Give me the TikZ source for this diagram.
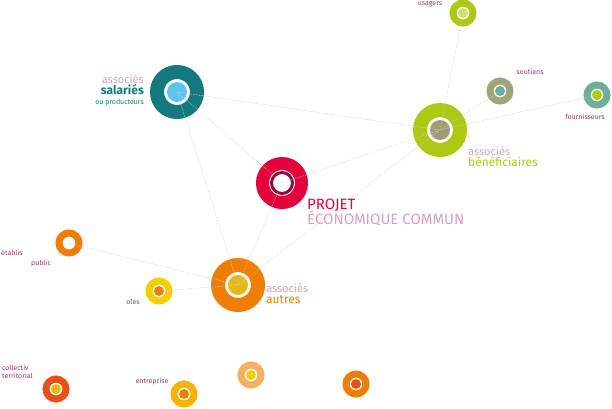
\documentclass[tikz,border=0pt]{standalone}
\usepackage{fontspec}
\setmainfont{Fira Sans}
\usetikzlibrary{positioning}
\definecolor{teal1}{HTML}{127A7F}
\definecolor{sky}{HTML}{5BC5EE}
\definecolor{lime}{HTML}{AFC814}
\definecolor{khaki}{HTML}{9E9B6F}
\definecolor{rouge}{HTML}{E4003C}
\definecolor{bordeaux}{HTML}{8C0C3C}
\definecolor{orange1}{HTML}{EF7D00}
\definecolor{jaune}{HTML}{E8B814}
\definecolor{jaune2}{HTML}{F0D000}
\definecolor{sauge}{HTML}{9EA577}
\definecolor{vert}{HTML}{6DAE98}
\definecolor{brique}{HTML}{E8501A}
\definecolor{ambre}{HTML}{F5B300}
\definecolor{peche}{HTML}{F8B060}
\definecolor{txt}{HTML}{9C3A6A}
\definecolor{rose}{HTML}{D8A0BC}
\tikzset{
  big/.style 2 args={circle, minimum size=40pt, draw=#1, line width=14pt, fill=white,
    path picture={\fill[#2] (path picture bounding box.center) circle (10pt);}},
  small/.style 2 args={circle, minimum size=20pt, draw=#1, line width=7pt, fill=white,
    path picture={\fill[#2] (path picture bounding box.center) circle (5pt);}},
  link/.style={draw=gray!35, densely dotted, line width=0.6pt},
  lab/.style={text=txt, font=\fontsize{7}{8}\selectfont, inner sep=1pt},
}
\begin{document}
\begin{tikzpicture}[x=1pt,y=-1pt]
\useasboundingbox (0,0) rectangle (612,408);
% main circles
\node[big={teal1}{sky}] (sal) at (177,92) {};
\node[big={lime}{khaki}] (ben) at (440,130) {};
\node[circle, minimum size=39pt, draw=rouge, line width=13pt, fill=white,
  path picture={\draw[bordeaux, line width=3pt] (path picture bounding box.center) circle (10.5pt);}] (pro) at (282,183) {};
\node[big={orange1}{jaune}] (aut) at (238,285) {};
% satellites
\node[small={lime}{lime!60}] (usa) at (463,13) {};
\node[small={sauge}{vert}] (sou) at (500,91) {};
\node[small={vert}{lime}] (fou) at (597,95) {};
\node[small={orange1}{white}] (eta) at (69,243) {};
\node[small={jaune2}{orange1}] (ecl) at (159,291) {};
\node[small={brique}{jaune}] (col) at (56,389) {};
\node[small={ambre}{orange1}] (ent) at (184,394) {};
\node[small={peche}{jaune2}] (p1) at (251,375) {};
\node[small={orange1}{brique}] (p2) at (356,384) {};
% links
\draw[link] (sal.center) -- (pro.center) (sal.center) -- (ben.center)
  (sal.center) -- (aut.center) (pro.center) -- (ben.center)
  (pro.center) -- (aut.center) (ben.center) -- (usa.center)
  (ben.center) -- (sou.center) (ben.center) -- (fou.center)
  (aut.center) -- (eta.center) (aut.center) -- (ecl.center)
  (aut.center) -- (ben.center);
% labels
\node[anchor=east, align=right, inner sep=0pt] (lsal) at (144,90)
  {\fontsize{11}{11}\selectfont\color{rose}associés\\[-1pt]
   \fontsize{12}{12}\selectfont\bfseries\color{teal1}salariés\\[-2pt]
   \fontsize{7}{7}\selectfont\color{teal1}ou producteurs};
\node[anchor=north west, align=left, inner sep=0pt] (lben) at (468,146)
  {\fontsize{11}{11}\selectfont\color{rose}associés\\[-1pt]
   \fontsize{12}{12}\selectfont\color{lime}bénéficiaires};
\node[anchor=north west, align=left, inner sep=0pt] (lpro) at (307,199)
  {\fontsize{15}{15}\selectfont\color{rouge}PROJET\\[-2pt]
   \fontsize{15}{15}\selectfont\color{rose}ÉCONOMIQUE COMMUN};
\node[anchor=north west, align=left, inner sep=0pt] (laut) at (266,283)
  {\fontsize{11}{11}\selectfont\color{rose}associés\\[-1pt]
   \fontsize{12}{12}\selectfont\color{orange1}autres};
\node[lab] at (430,4) {usagers};
\node[lab] at (530,72) {soutiens};
\node[lab] at (585,117) {fournisseurs};
\node[lab, anchor=west] at (0,253) {établis};
\node[lab] at (41,264) {public};
\node[lab] at (133,302) {oles};
\node[lab, anchor=west, align=left] at (1,372) {collectiv\\territorial};
\node[lab] at (152,382) {entreprise};
\end{tikzpicture}
\end{document}
